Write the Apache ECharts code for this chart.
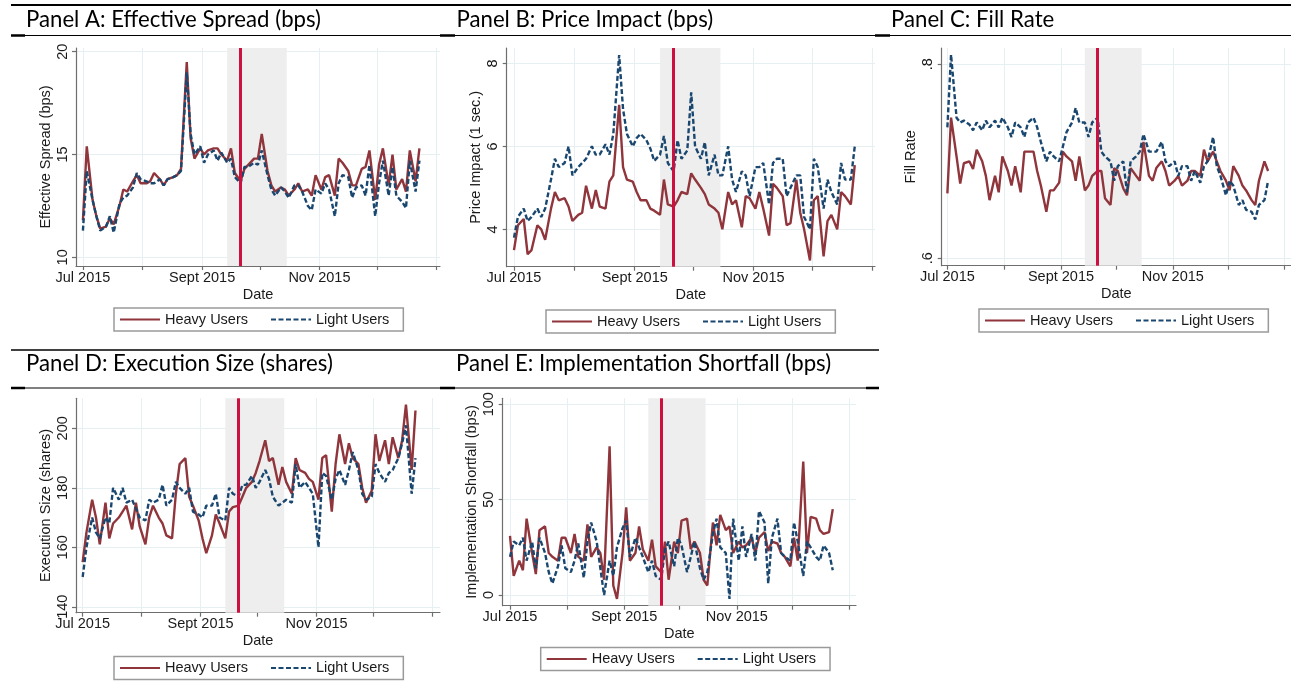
<!DOCTYPE html>
<html><head><meta charset="utf-8">
<script src="https://cdn.jsdelivr.net/npm/echarts@6/dist/echarts.min.js"></script>
<style>html,body{margin:0;padding:0;background:#fff}#c{width:1291px;height:696px}</style>
</head><body><div id="c"></div>
<script>
// ---------------- DATA ----------------
const dates = [
 '2015-07-01','2015-07-03','2015-07-06','2015-07-08','2015-07-10','2015-07-13','2015-07-15','2015-07-17','2015-07-20','2015-07-22','2015-07-24','2015-07-27','2015-07-29','2015-07-31',
 '2015-08-03','2015-08-05','2015-08-07','2015-08-10','2015-08-12','2015-08-14','2015-08-17','2015-08-19','2015-08-21','2015-08-24','2015-08-26','2015-08-28','2015-08-31',
 '2015-09-02','2015-09-04','2015-09-07','2015-09-09','2015-09-11','2015-09-14','2015-09-16','2015-09-18','2015-09-21','2015-09-23','2015-09-25','2015-09-28','2015-09-30',
 '2015-10-02','2015-10-05','2015-10-07','2015-10-09','2015-10-12','2015-10-14','2015-10-16','2015-10-19','2015-10-21','2015-10-23','2015-10-26','2015-10-28','2015-10-30',
 '2015-11-02','2015-11-04','2015-11-06','2015-11-09','2015-11-11','2015-11-13','2015-11-16','2015-11-18','2015-11-20','2015-11-23','2015-11-25','2015-11-27','2015-11-30',
 '2015-12-02','2015-12-04','2015-12-07','2015-12-09','2015-12-11','2015-12-14','2015-12-16','2015-12-18','2015-12-21','2015-12-23'];

const spreadHeavy = [11.8,15.4,12.8,12.0,11.4,11.5,11.9,11.6,12.5,13.3,13.2,13.7,14.0,13.6,
 13.6,13.7,14.1,13.8,13.5,13.8,13.9,14.0,14.3,19.5,15.8,14.8,15.3,
 15.0,15.2,15.3,15.3,15.0,14.7,15.3,14.1,13.7,14.3,14.5,14.8,14.8,
 16.0,14.2,13.5,13.2,13.4,13.3,13.0,13.3,13.6,13.2,13.3,13.0,14.0,
 13.3,13.9,14.0,13.0,14.8,14.6,14.2,13.5,13.5,14.3,14.4,15.2,12.8,
 14.5,15.3,13.5,15.0,13.3,13.8,13.2,15.2,13.7,15.3];
const spreadLight = [11.3,14.2,12.8,12.0,11.3,11.5,12.0,11.2,12.6,12.9,13.0,13.4,14.1,13.8,
 13.7,13.6,13.6,13.8,13.5,13.8,13.9,14.0,14.2,19.0,16.0,15.0,15.4,
 14.6,15.0,15.2,14.7,15.1,14.6,14.8,13.9,13.6,14.4,14.4,14.6,14.5,
 15.2,14.0,13.3,13.0,13.4,13.2,12.9,13.5,13.5,13.2,12.5,12.3,13.3,
 13.1,13.6,13.3,12.0,13.6,14.0,13.9,12.9,13.4,13.5,13.0,14.5,12.0,
 13.6,14.7,13.0,14.4,13.0,12.7,12.4,14.7,13.2,14.7];

const impactHeavy = [3.5,4.1,4.25,3.4,3.5,4.1,4.0,3.75,4.5,4.9,4.7,4.75,4.55,4.2,
 4.35,4.4,5.05,4.5,4.95,4.55,4.5,5.15,5.3,7.0,5.5,5.2,5.15,
 4.9,4.7,4.7,4.5,4.45,4.35,5.2,4.6,4.55,4.7,4.9,4.85,5.35,
 5.2,5.0,4.85,4.6,4.5,4.4,4.0,4.9,4.6,4.7,4.05,4.8,4.75,
 4.5,4.9,4.5,3.85,5.1,5.0,4.8,4.1,4.15,5.2,4.4,4.0,3.25,
 4.7,4.8,3.35,4.2,4.35,4.0,4.9,4.8,4.6,5.55];
const impactLight = [3.8,4.3,4.5,4.2,4.3,4.5,4.3,4.5,5.2,5.7,5.5,5.6,6.0,5.3,
 5.5,5.6,5.7,6.0,5.8,5.8,6.05,5.8,6.3,8.2,6.9,6.3,6.0,
 6.2,6.3,6.15,5.95,5.65,5.8,6.25,5.6,5.4,6.15,5.7,5.9,7.3,
 6.0,5.7,6.1,5.3,5.8,5.3,5.3,6.0,5.2,4.9,5.4,5.3,4.8,
 5.5,5.5,5.6,4.6,5.6,5.7,5.7,4.8,5.0,5.3,5.3,4.3,4.0,
 5.7,5.5,4.5,5.2,4.9,4.6,5.6,5.2,5.2,6.0];

const fillHeavy = [0.667,0.745,0.705,0.677,0.698,0.700,0.692,0.712,0.700,0.685,0.660,0.685,0.668,0.705,
 0.690,0.675,0.695,0.668,0.710,0.710,0.710,0.690,0.675,0.648,0.670,0.670,0.678,
 0.710,0.705,0.700,0.680,0.705,0.670,0.675,0.685,0.690,0.690,0.662,0.655,0.693,
 0.690,0.672,0.665,0.693,0.685,0.680,0.720,0.685,0.680,0.693,0.700,0.690,0.675,
 0.680,0.685,0.675,0.680,0.690,0.690,0.685,0.712,0.700,0.710,0.700,0.690,0.680,
 0.670,0.695,0.685,0.675,0.670,0.660,0.655,0.680,0.700,0.690];
const fillLight = [0.735,0.810,0.745,0.740,0.742,0.738,0.732,0.740,0.732,0.742,0.735,0.742,0.735,0.745,
 0.735,0.725,0.740,0.735,0.725,0.740,0.745,0.735,0.720,0.700,0.710,0.705,0.700,
 0.715,0.730,0.740,0.755,0.740,0.740,0.725,0.740,0.745,0.710,0.705,0.700,0.680,
 0.695,0.700,0.668,0.700,0.705,0.710,0.728,0.710,0.710,0.710,0.720,0.700,0.695,
 0.700,0.685,0.695,0.695,0.680,0.690,0.678,0.695,0.700,0.725,0.695,0.685,0.665,
 0.680,0.675,0.655,0.660,0.650,0.648,0.640,0.655,0.660,0.680];

const sizeHeavy = [155,165,176,170,161,175,163,168,170,172,174,166,175,167,
 161,170,174,170,168,164,163,178,188,190,177,174,169,
 163,158,164,171,168,163,172,173.5,174,177,180,182,185,
 189,196,189,190,181,187,182,178,190,186,185,183,182,
 176,190,191,172,188,198,188,195,190,188,180,175,179,
 198,189,196,188,197,190,196,208,186,206];
const sizeLight = [150,160,170,165,163,170,168,180,176,180,175,176,173,170,
 169,176,175,176,181,174,176,182,180,178,180,172,171,
 170,174,174,178,170,169,180,178,177,181,181,184,180,
 182,186,183,177,174,175,176,175,188,180,182,180,178,
 160,185,184,176,183,186,181,186,192,186,178,176,177,
 188,185,182,185,186,190,195,201,178,190];

const shortfallHeavy = [31,10,18,13,40,22,11,34,36,22,20,18,30,30,
 22,32,20,18,37,20,25,22,8,78,5,-2,22,
 46,18,22,36,24,18,29,15,12,28,8,28,22,
 39,40,24,28,22,8,5,38,26,42,34,36,22,
 28,25,26,30,22,30,33,23,28,27,22,20,15,
 30,18,70,22,41,40,34,32,33,45];
const shortfallLight = [20,28,26,30,18,28,14,30,22,12,6,15,26,14,
 12,18,27,9,28,38,28,14,0,18,10,25,35,
 39,20,30,25,20,12,18,10,8,24,28,15,30,
 26,12,20,28,14,8,12,32,40,25,22,-2,40,
 18,36,20,32,18,44,38,6,30,40,22,20,18,
 38,28,10,28,25,20,18,26,22,13];

const spreadTicks = [10, 15, 20];
const impactTicks = [4, 6, 8];
const fillTicks = [0.6, 0.8];
const sizeTicks = [140, 160, 180, 200];
const shortfallTicks = [0, 50, 100];

const monthTicks = ['2015-07-01','2015-08-01','2015-09-01','2015-10-01','2015-11-01','2015-12-01','2016-01-01'];
const labelledMonths = ['2015-07-01','2015-09-01','2015-11-01'];
const monthLabels = ['Jul 2015','Sept 2015','Nov 2015'];
const eventWindow = ['2015-09-14','2015-10-15'];
const eventDate = '2015-09-21';
const seriesNames = ['Heavy Users','Light Users'];

// ---------------- HELPERS ----------------
const T0 = Date.parse('2015-07-01T00:00:00Z');
const dayOf = s => (Date.parse(s + 'T00:00:00Z') - T0) / 86400000;
const xs = dates.map(dayOf);
const tickDays = monthTicks.map(dayOf);
const labelDays = labelledMonths.map(dayOf);

const HEAVY = '#90353B', LIGHT = '#1A476F', EVENT = '#CC1040';
const FONT = 'Liberation Sans';
const TXT = '#1a1a1a';

const panels = [
  {title:'Panel A: Effective Spread (bps)', yName:'Effective Spread (bps)', heavy:spreadHeavy, light:spreadLight, ticks:spreadTicks,
   grid:{left:76, top:48, width:364, height:218}, x:[-3.6,185.7], y:[9.58,20.18], legend:{left:114, top:308}, tpos:[26,22], fmt:v=>String(v)},
  {title:'Panel B: Price Impact (bps)', yName:'Price Impact (1 sec.)', heavy:impactHeavy, light:impactLight, ticks:impactTicks,
   grid:{left:506.7, top:48, width:368.3, height:218.7}, x:[-3.75,185.4], y:[3.1,8.37], legend:{left:546, top:310}, tpos:[456.5,22], fmt:v=>String(v)},
  {title:'Panel C: Fill Rate', yName:'Fill Rate', heavy:fillHeavy, light:fillLight, ticks:fillTicks,
   grid:{left:941.7, top:48, width:366.3, height:217.7}, x:[-3.1,187.5], y:[0.5924,0.8168], legend:{left:979, top:309}, tpos:[891,22], fmt:v=>String(v).replace(/^0/,'')},
  {title:'Panel D: Execution Size (shares)', yName:'Execution Size (shares)', heavy:sizeHeavy, light:sizeLight, ticks:sizeTicks,
   grid:{left:76, top:398.3, width:364, height:214.4}, x:[-3.5,187.9], y:[138,210.1], legend:{left:114, top:656.5}, tpos:[26,366.7], fmt:v=>String(v)},
  {title:'Panel E: Implementation Shortfall (bps)', yName:'Implementation Shortfall (bps)', heavy:shortfallHeavy, light:shortfallLight, ticks:shortfallTicks,
   grid:{left:502.7, top:398.3, width:353.3, height:207.4}, x:[-3.96,187.6], y:[-5.6,103.1], legend:{left:540.7, top:647.5}, tpos:[456,366.7], fmt:v=>String(v)}
];

const grids = [], xAxes = [], yAxes = [], series = [], legends = [], graphics = [];
const axisLineStyle = {color:'#6e6e6e', width:1.2};
const gridLineStyle = {color:'#E6EFF1', width:1};

panels.forEach((p, i) => {
  grids.push(Object.assign({containLabel:false}, p.grid));
  xAxes.push({
    type:'value', gridIndex:i, min:p.x[0], max:p.x[1],
    name:'Date', nameLocation:'middle', nameGap:21,
    nameTextStyle:{fontFamily:FONT, fontSize:14.5, color:TXT},
    axisLine:{show:true, onZero:false, lineStyle:axisLineStyle},
    axisTick:{show:true, inside:false, length:4, customValues:tickDays, lineStyle:axisLineStyle},
    axisLabel:{show:true, margin:4, customValues:labelDays, fontFamily:FONT, fontSize:14.5, color:TXT,
      formatter:v => { const k = labelDays.findIndex(d => Math.abs(d - v) < 0.01); return k >= 0 ? monthLabels[k] : ''; }},
    splitLine:{show:true, lineStyle:gridLineStyle}
  });
  yAxes.push({
    type:'value', gridIndex:i, min:p.y[0], max:p.y[1],
    name:p.yName, nameLocation:'middle', nameGap:23,
    nameTextStyle:{fontFamily:FONT, fontSize:14.5, color:TXT},
    axisLine:{show:true, onZero:false, lineStyle:axisLineStyle},
    axisTick:{show:true, inside:false, length:4, customValues:p.ticks, lineStyle:axisLineStyle},
    axisLabel:{show:true, rotate:90, margin:6, customValues:p.ticks, fontFamily:FONT, fontSize:14.5, color:TXT, formatter:p.fmt},
    splitLine:{show:true, lineStyle:gridLineStyle}
  });
  series.push({
    type:'line', xAxisIndex:i, yAxisIndex:i, data:[], silent:true, z:1,
    markArea:{silent:true, itemStyle:{color:'#EEEEEE'}, data:[[{xAxis:dayOf(eventWindow[0])},{xAxis:dayOf(eventWindow[1])}]]}
  });
  series.push({
    name:seriesNames[0], type:'line', xAxisIndex:i, yAxisIndex:i, symbol:'none', z:2,
    data:xs.map((x,k)=>[x, p.heavy[k]]),
    lineStyle:{color:HEAVY, width:2.4}, itemStyle:{color:HEAVY}
  });
  series.push({
    name:seriesNames[1], type:'line', xAxisIndex:i, yAxisIndex:i, symbol:'none', z:3,
    data:xs.map((x,k)=>[x, p.light[k]]),
    lineStyle:{color:LIGHT, width:2.4, type:[5,2.5]}, itemStyle:{color:LIGHT}
  });
  series.push({
    type:'line', xAxisIndex:i, yAxisIndex:i, data:[], silent:true, z:5,
    markLine:{silent:true, symbol:['none','none'], label:{show:false},
      lineStyle:{color:EVENT, width:3, type:'solid'}, data:[{xAxis:dayOf(eventDate)}]}
  });
  legends.push({
    data:seriesNames, left:p.legend.left, top:p.legend.top, orient:'horizontal',
    borderColor:'#9a9a9a', borderWidth:1.5, padding:[4,14,4,5], itemGap:22,
    itemWidth:40, itemHeight:12, selectedMode:false,
    itemStyle:{color:'rgba(0,0,0,0)', borderColor:'rgba(0,0,0,0)', borderWidth:0, opacity:0},
    textStyle:{fontFamily:FONT, fontSize:14.5, color:TXT}
  });
  graphics.push({type:'text', left:p.tpos[0], top:p.tpos[1]-13.5, style:{text:p.title, font:'22.2px Lato', fill:'#000'}});
});

// table rules
const hline = (x1,x2,y,w) => ({type:'line', shape:{x1,y1:y,x2,y2:y}, style:{stroke:'#000', lineWidth:w}});
graphics.push(
  hline(11,1291,5,2),
  hline(11,1291,35.5,1),
  hline(11,25,35.5,2.5), hline(440,455,35.5,2.5), hline(875,890,35.5,2.5),
  hline(11,879,350,1.5),
  hline(11,879,388,1),
  hline(11,25,388,2.5), hline(440,455,388,2.5), hline(866,879,388,2.5)
);

const chart = echarts.init(document.getElementById('c'), null, {renderer:'canvas'});
chart.setOption({
  animation:false,
  backgroundColor:'#fff',
  textStyle:{fontFamily:FONT},
  grid:grids, xAxis:xAxes, yAxis:yAxes, series:series, legend:legends, graphic:graphics
});
</script></body></html>
